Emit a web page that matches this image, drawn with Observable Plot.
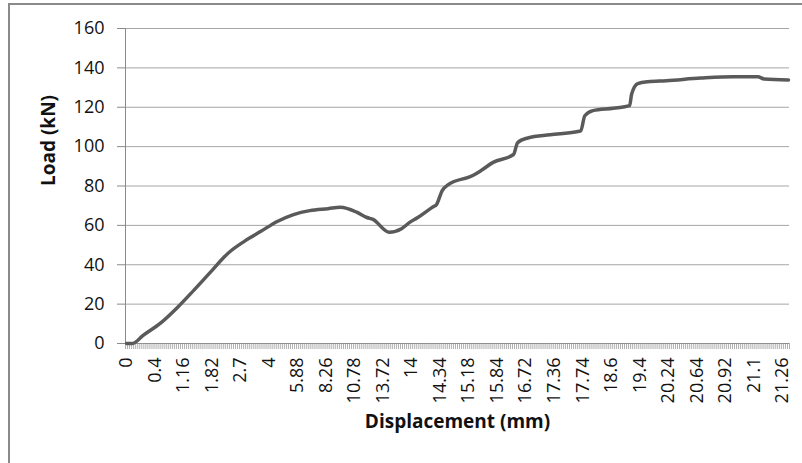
<!DOCTYPE html>
<html>
<head>
<meta charset="utf-8">
<script src="https://cdn.jsdelivr.net/npm/d3@7"></script>
<script src="https://cdn.jsdelivr.net/npm/@observablehq/plot@0.6"></script>
<style>
  html, body { margin: 0; padding: 0; background: #fff; overflow: hidden; }
  #wrap { position: relative; width: 802px; height: 463px; }
  #border { position: absolute; left: 8px; top: 3px; width: 900px; height: 600px;
            border: 2px solid #8a8a8a; pointer-events: none; box-sizing: border-box; }
</style>
</head>
<body>
<div id="wrap"><div id="border"></div></div>
<script>
// ---- data ----
const displacementLabels = ["0","0.4","1.16","1.82","2.7","4","5.88","8.26","10.78","13.72","14","14.34",
  "15.18","15.84","16.72","17.36","17.74","18.6","19.4","20.24","20.64","20.92","21.1","21.26"];
const categoryCount = 326;   // number of displacement categories on the x axis
const labelEvery = 14;       // a label is shown every 14th category
const yTicks = [0, 20, 40, 60, 80, 100, 120, 140, 160];

// load curve (category index, load in kN)
const curveCategory = [0, 3, 8, 17, 25, 33, 41, 50, 58, 66, 74, 82, 90, 99, 105, 113, 118, 121, 129, 135,
  139, 143, 151, 152, 155, 158, 170, 174, 180, 190, 192, 197, 208, 221, 223, 225, 229, 239, 247, 248,
  251, 256, 265, 282, 298, 310, 313, 325];
const curveLoad = [0, 0, 4, 10.6, 18.3, 27, 36, 46, 52, 57, 62, 65.5, 67.5, 68.5, 69.2, 66.7, 64, 63, 56.5, 58.3,
  61.5, 64, 69.7, 70.3, 77.7, 80.7, 85.3, 87.8, 92, 96, 102, 104.4, 106, 107.6, 108, 115.7, 118.3, 119.5, 120.8, 126.7,
  132, 133, 133.5, 134.8, 135.5, 135.5, 134.4, 133.9];

const points = curveCategory.map((c, i) => ({c: c + 0.5, load: curveLoad[i]}));
const boundaries = d3.range(0, categoryCount + 1);
const labelPos = displacementLabels.map((_, i) => i * labelEvery + 0.5);
const font = "'Open Sans', sans-serif";

const chart = Plot.plot({
  width: 802,
  height: 463,
  marginLeft: 125,
  marginRight: 13,
  marginTop: 28,
  marginBottom: 120,
  style: {fontFamily: font, fontSize: "18px", color: "#111", background: "transparent"},
  x: {domain: [0, categoryCount]},
  y: {domain: [0, 160]},
  marks: [
    Plot.ruleY(yTicks.filter(d => d > 0), {stroke: "#a6a6a6", strokeWidth: 1}),
    Plot.ruleX([0], {stroke: "#8a8a8a", strokeWidth: 1}),
    Plot.ruleY([0], {stroke: "#8a8a8a", strokeWidth: 1.2}),
    Plot.axisY({ticks: yTicks, tickSize: 8, tickPadding: 13, stroke: "#8a8a8a", fill: "#111",
      fontSize: 18, label: null}),
    Plot.axisX({ticks: boundaries, tickSize: 6, tickPadding: 0, stroke: "#9a9a9a", strokeWidth: 0.8,
      tickFormat: () => "", label: null}),
    Plot.axisX({ticks: labelPos, tickSize: 0, tickPadding: 14, tickRotate: -90, fill: "#111",
      fontSize: 18, tickFormat: d => displacementLabels[Math.round((d - 0.5) / labelEvery)], label: null}),
    Plot.line(points, {x: "c", y: "load", stroke: "#5a5a5a", strokeWidth: 3.5, curve: "monotone-x",
      strokeLinejoin: "round", strokeLinecap: "round"}),
    Plot.text(["Load (kN)"], {frameAnchor: "left", dx: -77, rotate: -90, fontWeight: "bold",
      fontSize: 19, fill: "#111"}),
    Plot.text(["Displacement (mm)"], {frameAnchor: "bottom", dy: 84, fontWeight: "bold",
      fontSize: 19, fill: "#111"})
  ]
});
document.getElementById("wrap").prepend(chart);
</script>
</body>
</html>
